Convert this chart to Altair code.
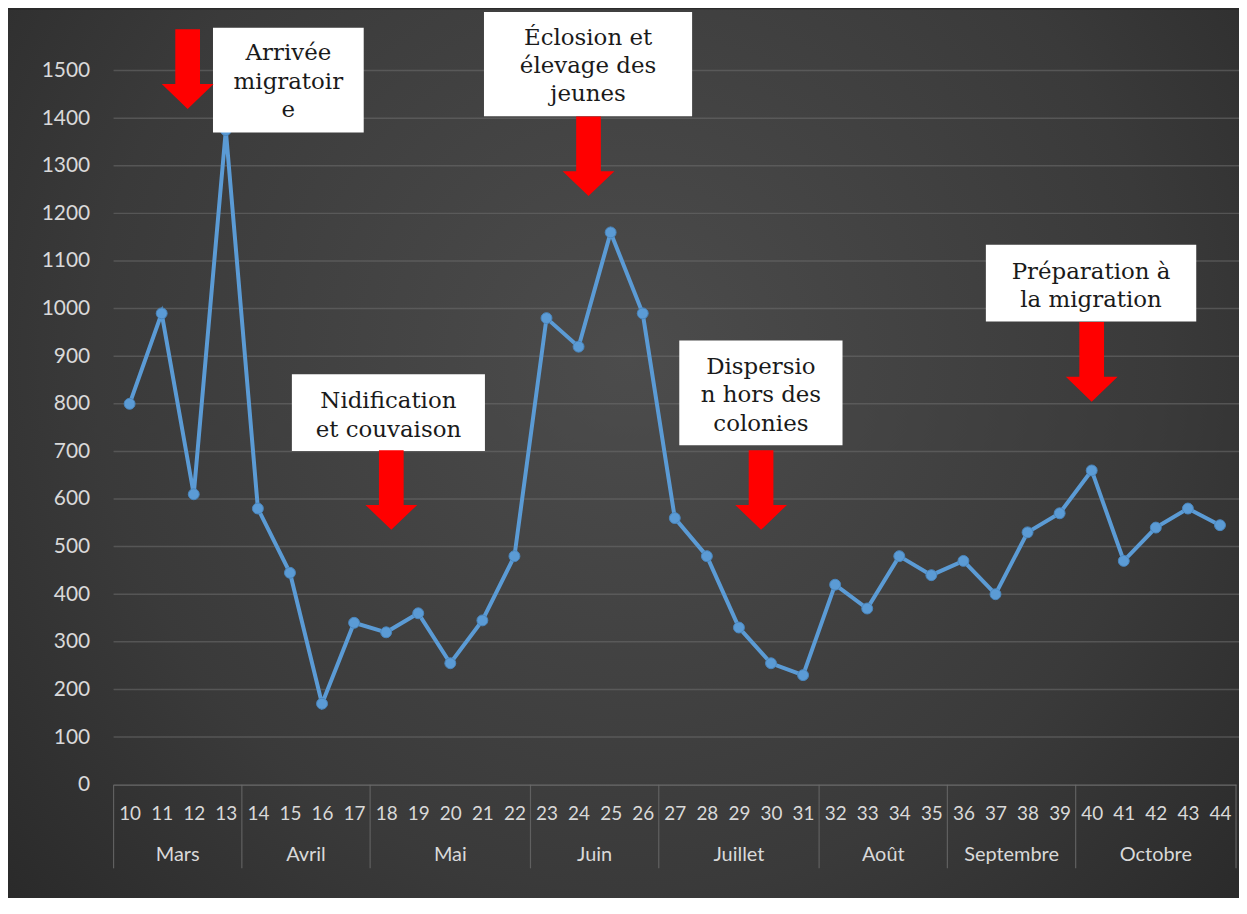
import altair as alt
import pandas as pd

# ---- data ----
weeks = list(range(10, 45))
counts = [800, 990, 610, 1375, 580, 445, 170, 340, 320, 360, 255, 345, 480,
          980, 920, 1160, 990, 560, 480, 330, 255, 230, 420, 370, 480, 440,
          470, 400, 530, 570, 660, 470, 540, 580, 545]

month_names = ["Mars", "Avril", "Mai", "Juin", "Juillet", "Août", "Septembre", "Octobre"]
month_first = [10, 14, 18, 23, 27, 32, 36, 40]
month_last = [13, 17, 22, 26, 31, 35, 39, 44]

y_ticks = list(range(0, 1600, 100))

ann_labels = ["Arrivée\nmigratoir\ne", "Éclosion et\nélevage des\njeunes",
              "Nidification\net couvaison", "Dispersio\nn hors des\ncolonies",
              "Préparation à\nla migration"]
ann_box_x1 = [12.6, 21.05, 15.06, 27.14, 36.7]
ann_box_x2 = [17.3, 27.54, 21.08, 32.23, 43.26]
ann_box_top = [1590, 1623, 862, 933, 1134]
ann_box_bottom = [1370, 1404, 701, 713, 973]
ann_text_y = [1536, 1569, 805, 877, 1077]
ann_arrow_x = [11.81, 24.31, 18.16, 29.69, 40.0]
ann_arrow_y = [1503, 1320, 619, 619, 888]

# ---- tables ----
df = pd.DataFrame({"semaine": weeks, "nombre": counts})
months = pd.DataFrame({
    "mois": month_names,
    "centre": [(a + b) / 2 for a, b in zip(month_first, month_last)],
})
bounds = pd.DataFrame({"b": [month_first[0] - 0.5] + [l + 0.5 for l in month_last]})
grid = pd.DataFrame({"v": y_ticks[1:]})
ann = pd.DataFrame({
    "label": ann_labels,
    "x1": ann_box_x1, "x2": ann_box_x2,
    "y1": ann_box_top, "y2": ann_box_bottom,
    "tx": [(a + b) / 2 for a, b in zip(ann_box_x1, ann_box_x2)],
    "ty": ann_text_y,
    "ax": ann_arrow_x, "ay": ann_arrow_y,
})

W, H = 1127, 717
PL, PT, PR, PB = 106, 61, 3, 112

xs = alt.Scale(domain=[9.5, 44.5], nice=False, zero=False)
ys = alt.Scale(domain=[0, 1500], nice=False)

x_axis = alt.Axis(values=weeks, title=None, grid=False, ticks=False,
                  labelFont="Lato", labelFontSize=19, labelColor="#d9d9d9",
                  labelBaseline="middle", labelPadding=29, labelFlush=False,
                  labelOverlap=False, domain=True, domainColor="#6b6b6b",
                  domainWidth=1.2, zindex=1, format="d")
y_axis = alt.Axis(values=y_ticks, title=None, grid=False, ticks=False,
                  domain=False, labelFont="Lato", labelFontSize=21,
                  labelColor="#d9d9d9", labelPadding=24, zindex=1, format="d")

bg = alt.Chart(df).mark_rect(
    fill=alt.RadialGradient(
        gradient="radial",
        stops=[alt.GradientStop(color="#4c4c4c", offset=0),
               alt.GradientStop(color="#3a3a3a", offset=0.55),
               alt.GradientStop(color="#222222", offset=1)],
        x1=0.5, y1=0.42, r1=0, x2=0.5, y2=0.42, r2=0.78),
).encode(
    x=alt.value(-PL), x2=alt.value(W + PR + 10),
    y=alt.value(-PT), y2=alt.value(H + PB + 10),
)

gridlines = alt.Chart(grid).mark_rule(color="#6e6e6e", strokeWidth=1.5, opacity=0.55).encode(
    y=alt.Y("v:Q", scale=ys, axis=y_axis),
    x=alt.value(0), x2=alt.value(W + PR),
)

seps = alt.Chart(bounds).mark_rule(color="#606060", strokeWidth=1.2).encode(
    x=alt.X("b:Q", scale=xs, axis=x_axis),
    y=alt.value(H), y2=alt.value(H + 84),
)

month_text = alt.Chart(months).mark_text(
    font="Lato", fontSize=20, color="#d9d9d9", baseline="middle", align="center"
).encode(
    x=alt.X("centre:Q", scale=xs, axis=x_axis),
    y=alt.value(H + 71),
    text="mois:N",
)

line = alt.Chart(df).mark_line(
    color="#5b9bd5", strokeWidth=4,
    point=alt.OverlayMarkDef(filled=True, fill="#5b9bd5", size=120, stroke="#4a86bd", strokeWidth=1),
).encode(
    x=alt.X("semaine:Q", scale=xs, axis=x_axis),
    y=alt.Y("nombre:Q", scale=ys, axis=y_axis),
)

boxes = alt.Chart(ann).mark_rect(fill="white").encode(
    x=alt.X("x1:Q", scale=xs, axis=x_axis), x2="x2:Q",
    y=alt.Y("y1:Q", scale=ys, axis=y_axis), y2="y2:Q",
)

box_text = alt.Chart(ann).mark_text(
    font="DejaVu Serif", fontSize=23, color="#1a1a1a", lineBreak="\n",
    lineHeight=28.5, align="center", baseline="middle",
).encode(
    x=alt.X("tx:Q", scale=xs, axis=x_axis),
    y=alt.Y("ty:Q", scale=ys, axis=y_axis),
    text="label:N",
)

arrow_path = "M-0.31,-1L0.31,-1L0.31,0.375L0.65,0.375L0,1L-0.65,0.375L-0.31,0.375Z"
arrows = alt.Chart(ann).mark_point(
    shape=arrow_path, filled=True, fill="#ff0000", opacity=1, size=6400, strokeWidth=0,
).encode(
    x=alt.X("ax:Q", scale=xs, axis=x_axis),
    y=alt.Y("ay:Q", scale=ys, axis=y_axis),
)

chart = alt.layer(bg, gridlines, seps, month_text, line, boxes, box_text, arrows).properties(
    width=W, height=H,
    padding={"left": PL, "top": PT, "right": PR, "bottom": PB},
    autosize=alt.AutoSizeParams(type="none"),
    background="#2a2a2a",
).configure_view(stroke=None)

chart.save("out.html", embed_options={"renderer": "svg", "actions": False})
